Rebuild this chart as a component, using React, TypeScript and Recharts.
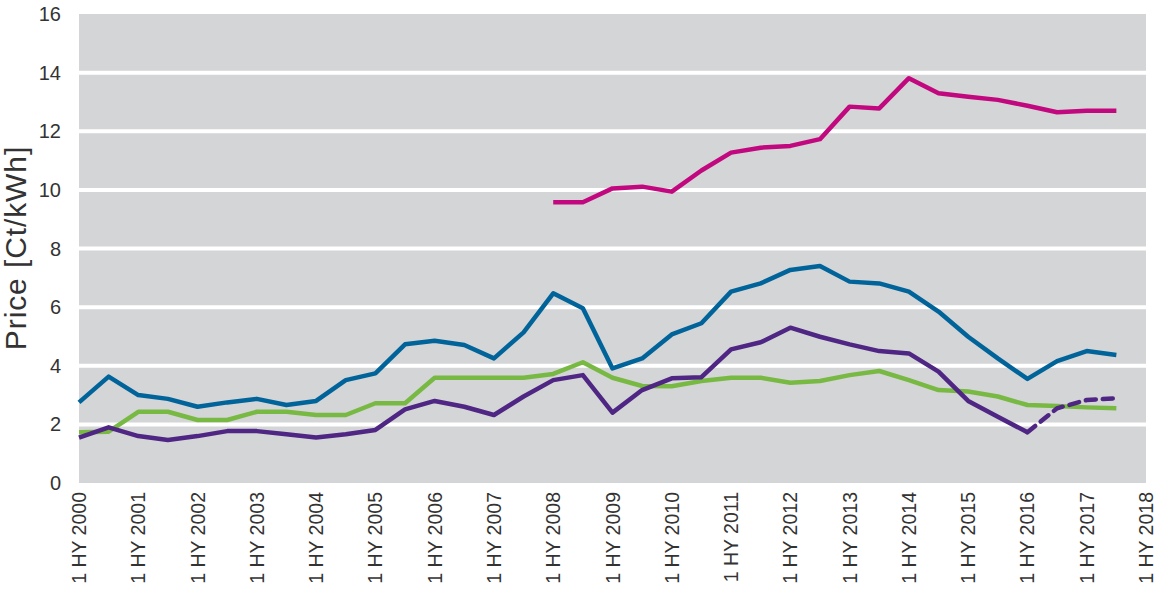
// Half-yearly electricity price components, 2000–2017 (Ct/kWh)
import { CartesianGrid, Line, LineChart, XAxis, YAxis } from "recharts";

const START_YEAR = 2000;
const YEAR_TICKS = [2000, 2001, 2002, 2003, 2004, 2005, 2006, 2007, 2008, 2009, 2010, 2011, 2012, 2013, 2014, 2015, 2016, 2017, 2018];
const PRICE_TICKS = [0, 2, 4, 6, 8, 10, 12, 14, 16];
const GRID_VALUES = [2, 4, 6, 8, 10, 12, 14];

const blue = [
  2.75, 3.63, 3.0, 2.87, 2.6, 2.75, 2.87, 2.66, 2.8, 3.51, 3.74, 4.73, 4.85, 4.71, 4.25, 5.14, 6.47, 5.96,
  3.91, 4.25, 5.07, 5.45, 6.53, 6.81, 7.27, 7.4, 6.87, 6.81, 6.53, 5.85, 4.99, 4.25, 3.55, 4.16, 4.5, 4.37
];
const green = [
  1.73, 1.75, 2.43, 2.43, 2.15, 2.15, 2.43, 2.43, 2.32, 2.32, 2.72, 2.72, 3.59, 3.59, 3.59, 3.59, 3.72, 4.12,
  3.59, 3.31, 3.3, 3.48, 3.59, 3.59, 3.42, 3.48, 3.68, 3.82, 3.51, 3.17, 3.12, 2.95, 2.66, 2.63, 2.58, 2.55
];
const purple = [
  1.55, 1.9, 1.6, 1.47, 1.6, 1.77, 1.77, 1.66, 1.55, 1.66, 1.81, 2.51, 2.8, 2.6, 2.32, 2.95, 3.51, 3.68,
  2.4, 3.17, 3.57, 3.61, 4.56, 4.8, 5.3, 4.99, 4.73, 4.5, 4.42, 3.8, 2.8, 2.26, 1.73, null, null, null
];
const purpleForecast = [
  null, null, null, null, null, null, null, null, null, null, null, null, null, null, null, null, null, null,
  null, null, null, null, null, null, null, null, null, null, null, null, null, null, 1.73, 2.55, 2.83, 2.89
];
const magenta = [
  null, null, null, null, null, null, null, null, null, null, null, null, null, null, null, null, 9.58, 9.58,
  10.05, 10.11, 9.94, 10.66, 11.27, 11.44, 11.5, 11.73, 12.84, 12.78, 13.81, 13.3, 13.18, 13.07, 12.87, 12.65, 12.7, 12.7
];

const data = blue.map((b, i) => ({
  t: START_YEAR + i / 2,
  blue: b,
  green: green[i],
  purple: purple[i],
  purpleForecast: purpleForecast[i],
  magenta: magenta[i]
}));

const FONT = "'Liberation Sans', Arial, sans-serif";
const TEXT_COLOR = "#333333";

function YearTick({ x, y, payload }: any) {
  return (
    <text
      x={x}
      y={y}
      transform={`rotate(-90 ${x} ${y})`}
      textAnchor="end"
      dominantBaseline="central"
      fontFamily={FONT}
      fontSize={19.5}
      fill={TEXT_COLOR}
    >
      {`1 HY ${payload.value}`}
    </text>
  );
}

function PriceTitle() {
  return (
    <text
      x={15}
      y={248}
      transform="rotate(-90 15 248)"
      textAnchor="middle"
      dominantBaseline="central"
      fontFamily={FONT}
      fontSize={30}
      letterSpacing={0.9}
      fill={TEXT_COLOR}
    >
      Price [Ct/kWh]
    </text>
  );
}

export default function App() {
  return (
    <div style={{ position: "absolute", left: 0, top: 0, background: "#fff" }}>
      <LineChart width={1160} height={591} data={data} margin={{ top: 14, right: 14, bottom: 0, left: 0 }}>
        <CartesianGrid
          vertical={false}
          horizontalValues={GRID_VALUES}
          stroke="#ffffff"
          strokeWidth={4}
          fill="#d4d5d7"
          fillOpacity={1}
        />
        <XAxis
          dataKey="t"
          type="number"
          domain={[2000, 2018]}
          ticks={YEAR_TICKS}
          interval={0}
          height={108}
          axisLine={false}
          tickLine={false}
          tickSize={0}
          tickMargin={9}
          tick={<YearTick />}
        />
        <YAxis
          type="number"
          domain={[0, 16]}
          ticks={PRICE_TICKS}
          width={79}
          axisLine={false}
          tickLine={false}
          tickSize={0}
          tickMargin={18}
          tick={{ fontFamily: FONT, fontSize: 20, fill: TEXT_COLOR }}
          label={() => <PriceTitle />}
        />
        <Line dataKey="green" stroke="#78b943" strokeWidth={4.5} dot={false} isAnimationActive={false} strokeLinejoin="round" />
        <Line dataKey="blue" stroke="#00649a" strokeWidth={4.5} dot={false} isAnimationActive={false} strokeLinejoin="round" />
        <Line dataKey="magenta" stroke="#c2087e" strokeWidth={4.5} dot={false} isAnimationActive={false} strokeLinejoin="round" />
        <Line dataKey="purple" stroke="#4f2683" strokeWidth={4.5} dot={false} isAnimationActive={false} strokeLinejoin="round" />
        <Line
          dataKey="purpleForecast"
          stroke="#4f2683"
          strokeWidth={4.5}
          strokeDasharray="10 7"
          strokeLinecap="round"
          dot={false}
          isAnimationActive={false}
        />
      </LineChart>
    </div>
  );
}
